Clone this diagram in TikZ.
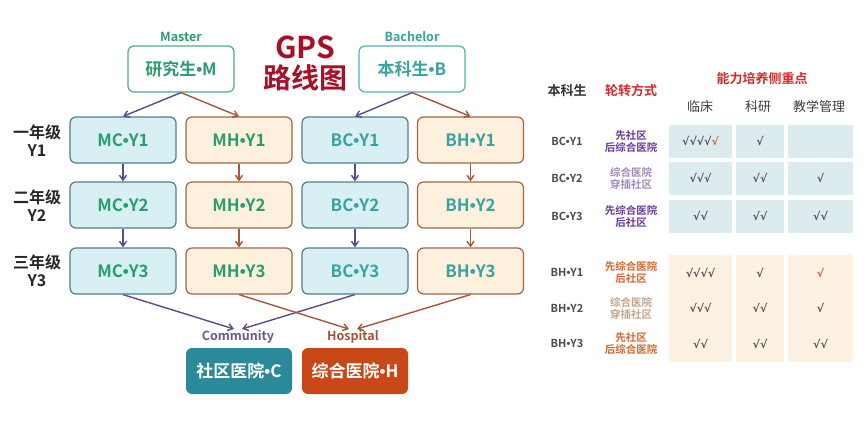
\documentclass[tikz,border=0pt]{standalone}
\usepackage{fontspec}
\setmainfont{Noto Sans CJK SC}[BoldFont={Noto Sans CJK SC Bold}]
\newfontfamily\chk{DejaVu Sans}
\newfontfamily\lat{Liberation Sans}
\newcommand\dt{{\lat\bfseries •}}
\usetikzlibrary{arrows.meta}
\definecolor{cfill}{HTML}{D8EFF3}
\definecolor{cborder}{HTML}{4F7F8C}
\definecolor{hfill}{HTML}{FDF0DD}
\definecolor{hborder}{HTML}{9C6848}
\definecolor{mgreen}{HTML}{2A9E6E}
\definecolor{bteal}{HTML}{38A3A0}
\definecolor{arrP}{HTML}{5E4A86}
\definecolor{arrH}{HTML}{A5573A}
\definecolor{gpsred}{HTML}{A8102A}
\definecolor{comfill}{HTML}{2B8A9A}
\definecolor{hosfill}{HTML}{C84818}
\definecolor{comtxt}{HTML}{6A5A8A}
\definecolor{hostxt}{HTML}{A0553A}
\definecolor{tred}{HTML}{D62A2A}
\definecolor{tblue}{HTML}{DCEBEE}
\definecolor{tpeach}{HTML}{FDF1E2}
\definecolor{vpurple}{HTML}{6A3A9A}
\definecolor{lpurple}{HTML}{A08AB8}
\definecolor{vorange}{HTML}{D8642A}
\definecolor{lbrown}{HTML}{C4A488}
\definecolor{chkgray}{HTML}{555555}
\tikzset{
  box/.style={draw, rounded corners=6pt, line width=1.2pt, minimum width=106pt, minimum height=46pt, inner sep=0pt, font=\bfseries\fontsize{17}{19}\selectfont},
  cbox/.style={box, draw=cborder, fill=cfill},
  hbox/.style={box, draw=hborder, fill=hfill},
  topbox/.style={box, fill=white},
  parr/.style={-{Straight Barb[length=5pt,width=7pt]}, draw=arrP, line width=1.4pt},
  harr/.style={-{Straight Barb[length=5pt,width=7pt]}, draw=arrH, line width=1.4pt},
  yearlbl/.style={align=center, font=\bfseries\fontsize{16}{18}\selectfont, text=black!85},
  smlbl/.style={font=\bfseries\fontsize{12.5}{14}\selectfont},
  dest/.style={rounded corners=6pt, minimum width=106pt, minimum height=46pt, inner sep=0pt, text=white, font=\bfseries\fontsize{17}{19}\selectfont},
  thead/.style={font=\bfseries\fontsize{13}{15}\selectfont},
  rowlbl/.style={font=\bfseries\fontsize{11}{13}\selectfont, text=black!70},
  rot/.style={align=center, font=\bfseries\fontsize{10.5}{12}\selectfont},
  cellA/.style={minimum width=63pt, minimum height=33pt, inner sep=0pt, font=\chk\bfseries\fontsize{11}{13}\selectfont, text=chkgray},
  cellB/.style={cellA, minimum width=48pt},
  cellC/.style={cellA, minimum width=65pt},
}
\begin{document}
\begin{tikzpicture}[x=1pt,y=-1pt]
\useasboundingbox (0,0) rectangle (865,424);
\fill[white] (0,0) rectangle (865,424);
% top boxes
\node[smlbl, text=mgreen] (mlbl) at (181,37) {Master};
\node[topbox, text=mgreen, draw=mgreen!85] (master) at (181,69) {研究生\dt M};
\node[smlbl, text=bteal] (blbl) at (412,37) {Bachelor};
\node[topbox, text=bteal, draw=bteal!85] (bach) at (412,69) {本科生\dt B};
\node[font=\bfseries\fontsize{30}{32}\selectfont, text=gpsred] (gps) at (305,47) {GPS};
\node[font=\bfseries\fontsize{28}{30}\selectfont, text=gpsred] (lxt) at (305,78) {路线图};
% year labels
\node[yearlbl] (y1) at (37,141) {一年级\\Y1};
\node[yearlbl] (y2) at (37,206) {二年级\\Y2};
\node[yearlbl] (y3) at (37,271) {三年级\\Y3};
% grid
\node[cbox, text=mgreen] (mc1) at (123,140) {MC\dt Y1};
\node[hbox, text=mgreen] (mh1) at (239,140) {MH\dt Y1};
\node[cbox, text=bteal] (bc1) at (355,140) {BC\dt Y1};
\node[hbox, text=bteal] (bh1) at (470.5,140) {BH\dt Y1};
\node[cbox, text=mgreen] (mc2) at (123,205) {MC\dt Y2};
\node[hbox, text=mgreen] (mh2) at (239,205) {MH\dt Y2};
\node[cbox, text=bteal] (bc2) at (355,205) {BC\dt Y2};
\node[hbox, text=bteal] (bh2) at (470.5,205) {BH\dt Y2};
\node[cbox, text=mgreen] (mc3) at (123,271) {MC\dt Y3};
\node[hbox, text=mgreen] (mh3) at (239,271) {MH\dt Y3};
\node[cbox, text=bteal] (bc3) at (355,271) {BC\dt Y3};
\node[hbox, text=bteal] (bh3) at (470.5,271) {BH\dt Y3};
% destinations
\node[smlbl, text=comtxt] (comlbl) at (238,337) {Community};
\node[smlbl, text=hostxt] (hoslbl) at (353,337) {Hospital};
\node[dest, fill=comfill] (com) at (239,371) {社区医院\dt C};
\node[dest, fill=hosfill] (hos) at (355,371) {综合医院\dt H};
% arrows
\draw[parr] (master.south) -- (mc1.north);
\draw[harr] (master.south) -- (mh1.north);
\draw[parr] (bach.south) -- (bc1.north);
\draw[harr] (bach.south) -- (bh1.north);
\draw[parr] (mc1) -- (mc2);
\draw[parr] (mc2) -- (mc3);
\draw[harr] (mh1) -- (mh2);
\draw[harr] (mh2) -- (mh3);
\draw[parr] (bc1) -- (bc2);
\draw[parr] (bc2) -- (bc3);
\draw[harr] (bh1) -- (bh2);
\draw[harr] (bh2) -- (bh3);
\draw[parr] (mc3.south) -- ([xshift=-4pt,yshift=-2pt]comlbl.north);
\draw[parr] (bc3.south) -- ([xshift=4pt,yshift=-2pt]comlbl.north);
\draw[harr] (mh3.south) -- ([xshift=-4pt,yshift=-2pt]hoslbl.north);
\draw[harr] (bh3.south) -- ([xshift=4pt,yshift=-2pt]hoslbl.north);
% table headers
\node[thead, text=black!80] (hb) at (567,91) {本科生};
\node[thead, text=tred] (hr) at (631,91) {轮转方式};
\node[thead, text=tred] (hf) at (762,79) {能力培养侧重点};
\node[font=\fontsize{13}{15}\selectfont, text=black!75] (h1) at (700,107) {临床};
\node[font=\fontsize{13}{15}\selectfont, text=black!75] (h2) at (758,107) {科研};
\node[font=\fontsize{13}{15}\selectfont, text=black!75] (h3) at (819,107) {教学管理};
% BC rows
\node[rowlbl] (r1) at (567,141) {BC\dt Y1};
\node[rot, text=vpurple] (t1) at (631,141) {先社区\\后综合医院};
\node[cellA, fill=tblue] (c11) at (700.5,141) {√√√√\textcolor{vorange}{√}};
\node[cellB, fill=tblue] (c12) at (760,141) {√};
\node[cellC, fill=tblue] (c13) at (820.5,141) {};
\node[rowlbl] (r2) at (567,178) {BC\dt Y2};
\node[rot, text=lpurple] (t2) at (631,178) {综合医院\\穿插社区};
\node[cellA, fill=tblue] (c21) at (700.5,178) {√√√};
\node[cellB, fill=tblue] (c22) at (760,178) {√√};
\node[cellC, fill=tblue] (c23) at (820.5,178) {√};
\node[rowlbl] (r3) at (567,216) {BC\dt Y3};
\node[rot, text=vpurple] (t3) at (631,216) {先综合医院\\后社区};
\node[cellA, fill=tblue] (c31) at (700.5,216) {√√};
\node[cellB, fill=tblue] (c32) at (760,216) {√√};
\node[cellC, fill=tblue] (c33) at (820.5,216) {√√};
% BH rows
\node[cellA, fill=tpeach, minimum height=36pt] (d11) at (700.5,272.5) {√√√√};
\node[cellB, fill=tpeach, minimum height=36pt] (d12) at (760,272.5) {√};
\node[cellC, fill=tpeach, minimum height=36pt] (d13) at (820.5,272.5) {\textcolor{tred!80}{√}};
\node[cellA, fill=tpeach, minimum height=36pt] (d21) at (700.5,308) {√√√};
\node[cellB, fill=tpeach, minimum height=36pt] (d22) at (760,308) {√√};
\node[cellC, fill=tpeach, minimum height=36pt] (d23) at (820.5,308) {√};
\node[cellA, fill=tpeach, minimum height=36pt] (d31) at (700.5,343.5) {√√};
\node[cellB, fill=tpeach, minimum height=36pt] (d32) at (760,343.5) {√√};
\node[cellC, fill=tpeach, minimum height=36pt] (d33) at (820.5,343.5) {√√};
\node[rowlbl] (s1) at (567,272) {BH\dt Y1};
\node[rot, text=vorange] (u1) at (631,272) {先综合医院\\后社区};
\node[rowlbl] (s2) at (567,308) {BH\dt Y2};
\node[rot, text=lbrown] (u2) at (631,308) {综合医院\\穿插社区};
\node[rowlbl] (s3) at (567,343) {BH\dt Y3};
\node[rot, text=vorange] (u3) at (631,343) {先社区\\后综合医院};
\end{tikzpicture}
\end{document}
